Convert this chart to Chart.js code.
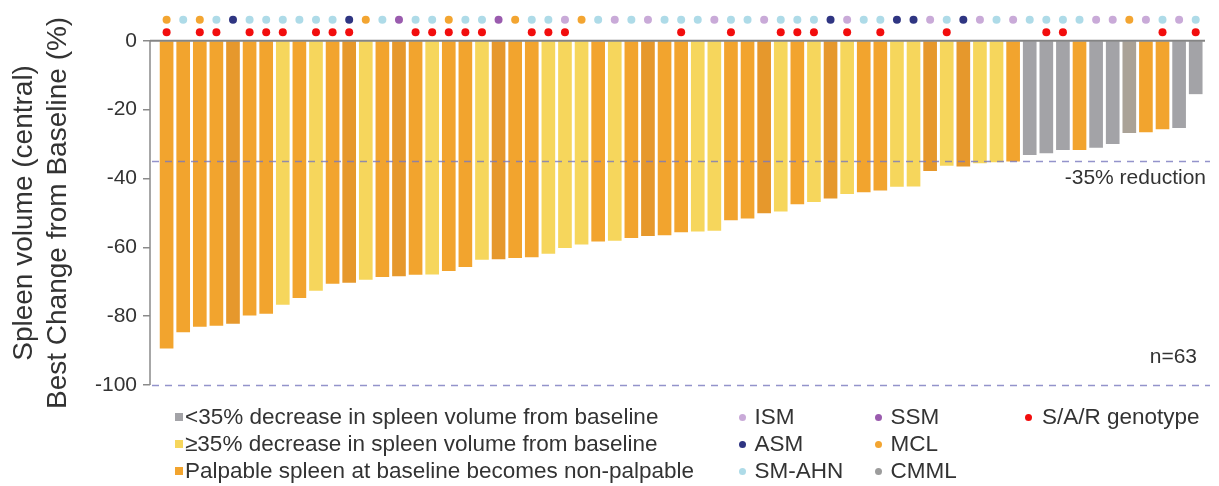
<!DOCTYPE html>
<html lang="en">
<head>
<meta charset="UTF-8">
<title>Spleen volume waterfall</title>
<script src="https://cdn.jsdelivr.net/npm/chart.js"></script>
<style>
    body{
        margin:0;
        background:#fff;
        font-family:"Liberation Sans", Arial, Helvetica, sans-serif;
        color:#333;
    }
    #wrap{
        position:relative;
        width:1219px;
        height:486px;
    }
    #legend .item{
        position:absolute;
        font-size:22.5px;
        line-height:26px;
        white-space:nowrap;
        color:#333;
    }
    #legend .sq{
        position:absolute;
        width:8px;
        height:8px;
    }
    #legend .dot{
        position:absolute;
        width:7px;
        height:7px;
        border-radius:50%;
    }
</style>
</head>
<body>
<div id="wrap">
    <canvas id="waterfall" width="1219" height="486"></canvas>
    <div id="legend"></div>
</div>

<script>
// best % change in central spleen volume, one bar per patient (sorted)
const changePct = [
    -89.3, -84.6, -83.0, -82.7, -82.1, -79.7, -79.2, -76.6, -74.6, -72.5,
    -70.5, -70.2, -69.3, -68.5, -68.3, -67.9, -67.8, -66.8, -65.6, -63.5,
    -63.4, -63.0, -62.8, -61.8, -60.1, -59.1, -58.2, -58.0, -57.2, -56.6,
    -56.4, -55.5, -55.3, -55.1, -52.0, -51.5, -50.0, -49.5, -47.4, -46.7,
    -45.7, -44.4, -43.9, -43.4, -42.3, -42.2, -37.7, -36.2, -36.4, -35.5,
    -35.2, -35.0, -33.1, -32.6, -31.6, -31.6, -31.0, -29.9, -26.7, -26.5,
    -25.6, -25.2, -15.4
];

// response group: O = palpable -> non-palpable, D = same (darker shade), Y = >=35%, G = <35%, T = <35% (taupe shade)
const responseGroup = [
    "O","O","O","O","D","O","O","Y","O","Y",
    "O","D","Y","O","D","O","Y","O","O","Y",
    "D","O","O","Y","Y","Y","O","Y","O","D",
    "O","O","Y","Y","O","O","D","Y","O","Y",
    "D","Y","O","O","Y","Y","D","Y","D","Y",
    "Y","O","G","G","G","O","G","G","T","O",
    "O","G","G"
];

// disease subtype per patient
const subtype = [
    "MCL","SM-AHN","MCL","SM-AHN","ASM","SM-AHN","SM-AHN","SM-AHN","SM-AHN","SM-AHN",
    "SM-AHN","ASM","MCL","SM-AHN","SSM","SM-AHN","SM-AHN","MCL","SM-AHN","SM-AHN",
    "SSM","MCL","SM-AHN","SM-AHN","ISM","MCL","SM-AHN","ISM","SM-AHN","ISM",
    "SM-AHN","SM-AHN","SM-AHN","ISM","SM-AHN","SM-AHN","ISM","SM-AHN","SM-AHN","SM-AHN",
    "ASM","ISM","SM-AHN","SM-AHN","ASM","ASM","ISM","SM-AHN","ASM","ISM",
    "SM-AHN","ISM","SM-AHN","SM-AHN","SM-AHN","SM-AHN","ISM","ISM","MCL","ISM",
    "SM-AHN","ISM","SM-AHN"
];

// patients (bar numbers) carrying the S/A/R genotype
const sarPatients = [1,3,4,6,7,8,10,11,12,16,17,18,19,20,23,24,25,32,35,38,39,40,42,44,48,54,55,61,63];

const yTicks = [-100, -80, -60, -40, -20, 0];
const refValues = [-35, -100];

const groupColors = {O:"#F2A42E", D:"#E6982C", Y:"#F6D65C", G:"#A3A3A7", T:"#AAA297"};
const subtypeColors = {
    "ISM":"#C9AAD8", "SSM":"#9A5BAE", "ASM":"#2F3582",
    "MCL":"#F3A531", "SM-AHN":"#AEDBE8", "CMML":"#9C9C9C"
};
const sarColor = "#F20D0D";

// dot rows sit above the zero line
const typeRow = 6.1;
const genoRow = 2.5;

const patients = changePct.map((v, i) => i + 1);
const FONT = "'Liberation Sans', Arial, sans-serif";

const refLines = {
    id:"refLines",
    afterDatasetsDraw(chart){
        const ctx = chart.ctx;
        const y = chart.scales.y;
        const left = chart.chartArea.left, right = chart.chartArea.right;
        const y0 = y.getPixelForValue(0), y100 = y.getPixelForValue(-100);
        ctx.save();
        // y axis line (only over the 0..-100 range)
        ctx.strokeStyle = "#8a8a8a";
        ctx.lineWidth = 1.5;
        ctx.beginPath();
        ctx.moveTo(left, y0);
        ctx.lineTo(left, y100);
        ctx.stroke();
        // zero line
        ctx.strokeStyle = "#858585";
        ctx.lineWidth = 2;
        ctx.beginPath();
        ctx.moveTo(left, y0);
        ctx.lineTo(right, y0);
        ctx.stroke();
        // dashed reference lines
        ctx.strokeStyle = "rgba(120,120,190,0.8)";
        ctx.lineWidth = 1.5;
        ctx.setLineDash([7, 6]);
        refValues.forEach(v => {
            const py = Math.round(y.getPixelForValue(v)) + 0.5;
            ctx.beginPath();
            ctx.moveTo(left + 2, py);
            ctx.lineTo(right + 5, py);
            ctx.stroke();
        });
        ctx.setLineDash([]);
        ctx.fillStyle = "#333";
        ctx.font = "21px " + FONT;
        ctx.textAlign = "right";
        ctx.textBaseline = "middle";
        ctx.fillText("-35% reduction", right + 1, y.getPixelForValue(-35) + 17);
        ctx.fillText("n=63", right - 8, y100 - 28);
        // axis title, centred on the 0..-100 range
        const yc = (y0 + y100) / 2;
        ctx.font = "28px " + FONT;
        ctx.textAlign = "center";
        [["Spleen volume (central)", 24], ["Best Change from Baseline (%)", 58]].forEach(([txt, tx]) => {
            ctx.save();
            ctx.translate(tx, yc);
            ctx.rotate(-Math.PI / 2);
            ctx.fillText(txt, 0, 0);
            ctx.restore();
        });
        ctx.restore();
    }
};

const ctx = document.getElementById("waterfall").getContext("2d");
new Chart(ctx, {
    type:"bar",
    data:{
        datasets:[
            {
                label:"subtype",
                type:"line",
                data:patients.map(p => ({x:p, y:typeRow})),
                showLine:false,
                pointRadius:4,
                pointBorderWidth:0,
                pointBackgroundColor:subtype.map(s => subtypeColors[s]),
                order:0
            },
            {
                label:"S/A/R genotype",
                type:"line",
                data:sarPatients.map(p => ({x:p, y:genoRow})),
                showLine:false,
                pointRadius:4,
                pointBorderWidth:0,
                pointBackgroundColor:sarColor,
                order:0
            },
            {
                label:"Best change",
                data:patients.map((p, i) => ({x:p, y:changePct[i]})),
                backgroundColor:responseGroup.map(g => groupColors[g]),
                borderWidth:0,
                barThickness:13,
                order:1
            }
        ]
    },
    options:{
        responsive:false,
        animation:false,
        layout:{padding:{top:0, bottom:101, left:0, right:14}},
        plugins:{
            legend:{display:false},
            tooltip:{enabled:false}
        },
        scales:{
            x:{
                type:"linear",
                display:false,
                offset:false,
                min:0,
                max:63.56
            },
            y:{
                min:-100,
                max:10.7,
                afterFit(scale){
                    scale.width = 150;
                    scale.paddingTop = 0;
                    scale.paddingBottom = 0;
                },
                afterBuildTicks(scale){ scale.ticks = yTicks.map(v => ({value:v})); },
                grid:{drawOnChartArea:false, drawTicks:true, tickLength:7, color:"#8a8a8a", lineWidth:1.5},
                border:{display:false},
                ticks:{
                    color:"#333",
                    padding:6,
                    font:{family:FONT, size:21}
                }
            }
        }
    },
    plugins:[refLines]
});

// legend below the chart
const legendGroups = [
    {color:groupColors.G, text:"<35% decrease in spleen volume from baseline"},
    {color:groupColors.Y, text:"\u226535% decrease in spleen volume from baseline"},
    {color:groupColors.O, text:"Palpable spleen at baseline becomes non-palpable"}
];
const legendDots = [
    {name:"ISM", col:0, row:0}, {name:"ASM", col:0, row:1}, {name:"SM-AHN", col:0, row:2},
    {name:"SSM", col:1, row:0}, {name:"MCL", col:1, row:1}, {name:"CMML", col:1, row:2}
];
const legendRowY = [417, 444, 471];
const dotColX = [742.5, 878.5];

const legend = document.getElementById("legend");
legendGroups.forEach((g, i) => {
    legend.innerHTML += `<div class="sq" style="left:175px;top:${legendRowY[i] - 4}px;background:${g.color}"></div>
        <div class="item" style="left:185px;top:${legendRowY[i] - 13}px">${g.text}</div>`;
});
legendDots.forEach(d => {
    const cx = dotColX[d.col], cy = legendRowY[d.row];
    legend.innerHTML += `<div class="dot" style="left:${cx - 3.5}px;top:${cy - 3.5}px;background:${subtypeColors[d.name]}"></div>
        <div class="item" style="left:${cx + 12}px;top:${cy - 13}px">${d.name}</div>`;
});
legend.innerHTML += `<div class="dot" style="left:1024.5px;top:${legendRowY[0] - 3.5}px;background:${sarColor}"></div>
    <div class="item" style="left:1042px;top:${legendRowY[0] - 13}px">S/A/R genotype</div>`;
</script>
</body>
</html>
